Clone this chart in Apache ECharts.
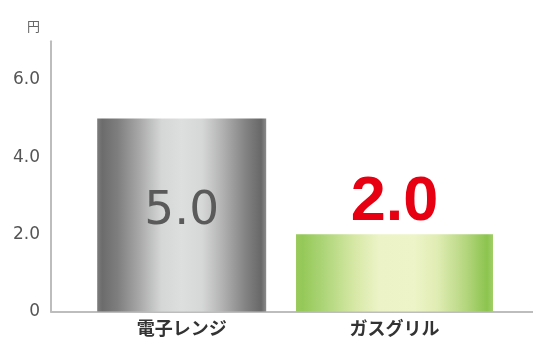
<!DOCTYPE html>
<html>
<head>
<meta charset="utf-8">
<script src="https://cdn.jsdelivr.net/npm/echarts@6/dist/echarts.min.js"></script>
<style>
  html, body { margin: 0; padding: 0; background: #ffffff; }
  #chart { width: 533px; height: 339px; }
</style>
</head>
<body>
<div id="chart"></div>
<script>
// Cost per use (yen)
const categories = ['電子レンジ', 'ガスグリル'];
const values = [5.0, 2.0];
const unitLabel = '円';
const yMax = 7;
const yStep = 2;

const chart = echarts.init(document.getElementById('chart'), null, { renderer: 'canvas' });

const greyMetal = new echarts.graphic.LinearGradient(0, 0, 1, 0, [
  { offset: 0.00, color: '#7c7c7c' },
  { offset: 0.03, color: '#6c6c6c' },
  { offset: 0.12, color: '#7e7e7e' },
  { offset: 0.25, color: '#a8a8a8' },
  { offset: 0.38, color: '#d5d7d6' },
  { offset: 0.50, color: '#dddfde' },
  { offset: 0.62, color: '#d6d8d7' },
  { offset: 0.74, color: '#b2b2b2' },
  { offset: 0.88, color: '#828282' },
  { offset: 0.97, color: '#686868' },
  { offset: 1.00, color: '#8a8a8a' }
]);

const greenGlow = new echarts.graphic.LinearGradient(0, 0, 1, 0, [
  { offset: 0.00, color: '#9acb5c' },
  { offset: 0.03, color: '#94c858' },
  { offset: 0.14, color: '#add578' },
  { offset: 0.30, color: '#d7e8a6' },
  { offset: 0.42, color: '#ecf3c7' },
  { offset: 0.60, color: '#edf4c8' },
  { offset: 0.72, color: '#dfecb2' },
  { offset: 0.86, color: '#b5d67f' },
  { offset: 0.97, color: '#8cc44e' },
  { offset: 1.00, color: '#a0cf66' }
]);

const gridTop = 41.3;
const gridBottom = 27.5;

chart.setOption({
  animation: false,
  title: {
    text: unitLabel,
    left: 22,
    top: 15,
    textStyle: { fontSize: 13, fontWeight: 'normal', color: '#666', fontFamily: 'Noto Sans CJK JP' }
  },
  grid: [
    { left: 51, right: 0, top: gridTop, bottom: gridBottom },
    { left: 75.3, right: 32.1, top: gridTop, bottom: gridBottom }
  ],
  xAxis: [
    {
      gridIndex: 0, type: 'category', data: categories,
      axisLine: { show: true, lineStyle: { color: '#bdbdbd', width: 2 } },
      axisTick: { show: false }, axisLabel: { show: false }, splitLine: { show: false }
    },
    {
      gridIndex: 1, type: 'category', data: categories,
      axisLine: { show: false }, axisTick: { show: false },
      axisLabel: {
        margin: 8, fontSize: 18, fontWeight: 'bold', color: '#333',
        fontFamily: 'Noto Sans CJK JP'
      }
    },
    {
      gridIndex: 1, type: 'category', data: categories, show: false
    }
  ],
  yAxis: [
    {
      gridIndex: 0, type: 'value', min: 0, max: yMax, interval: yStep,
      axisLine: { show: true, lineStyle: { color: '#bdbdbd', width: 2 } },
      axisTick: { show: false },
      splitLine: { show: false },
      axisLabel: {
        showMaxLabel: false,
        margin: 11, fontSize: 17, color: '#555', fontFamily: 'DejaVu Sans',
        formatter: v => (v === 0 ? '0' : v.toFixed(1))
      }
    },
    {
      gridIndex: 1, type: 'value', min: 0, max: yMax, interval: yStep, show: false,
      splitLine: { show: false }
    }
  ],
  series: [
    {
      type: 'bar', xAxisIndex: 1, yAxisIndex: 1, barWidth: 169,
      data: values.map((v, i) => (i === 0 ? v : '-')),
      itemStyle: { color: greyMetal },
      label: {
        show: true, position: 'inside', offset: [0, -3],
        formatter: p => p.value.toFixed(1),
        fontSize: 47, color: '#5a5a5a', fontFamily: 'DejaVu Sans'
      }
    },
    {
      type: 'bar', xAxisIndex: 2, yAxisIndex: 1, barWidth: 197,
      data: values.map((v, i) => (i === 1 ? v : '-')),
      itemStyle: { color: greenGlow },
      label: {
        show: true, position: 'top', distance: 0,
        formatter: p => p.value.toFixed(1),
        fontSize: 63, fontWeight: 'bold', color: '#e60012', fontFamily: 'Liberation Sans'
      }
    }
  ]
});
</script>
</body>
</html>
